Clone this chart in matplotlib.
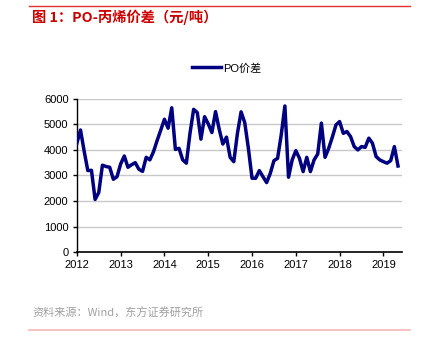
import numpy as np
import pandas as pd
import matplotlib
matplotlib.use("Agg")
import matplotlib.pyplot as plt
from matplotlib.lines import Line2D

plt.rcParams['font.family'] = ['Liberation Sans', 'Noto Sans CJK SC', 'DejaVu Sans']

# monthly PO - propylene spread, yuan/ton
spread = [4260, 4780, 3950, 3190, 3200, 2060, 2330, 3400, 3350, 3320,
          2850, 2950, 3450, 3760, 3320, 3420, 3500, 3240, 3160, 3710,
          3610, 3930, 4370, 4780, 5200, 4850, 5650, 4020, 4060, 3610,
          3480, 4650, 5590, 5460, 4420, 5300, 5020, 4680, 5500, 4810,
          4230, 4500, 3710, 3540, 4650, 5490, 5070, 4060, 2890, 2890,
          3190, 2950, 2720, 3080, 3580, 3670, 4590, 5720, 2930, 3610,
          3970, 3670, 3150, 3710, 3150, 3610, 3840, 5050, 3710, 4060,
          4500, 4980, 5110, 4650, 4720, 4520, 4130, 4000, 4130, 4100,
          4460, 4260, 3740, 3610, 3540, 3480, 3580, 4130, 3370]
years = list(range(2012, 2020))
yticks = [0, 1000, 2000, 3000, 4000, 5000, 6000]

dates = pd.date_range("2012-01-01", periods=len(spread), freq="MS")
x = dates.year + (dates.month - 1) / 12.0

fig = plt.figure(figsize=(4.27, 3.53), dpi=100)
ax = fig.add_axes([0.180, 0.286, 0.761, 0.434])

for v in yticks[1:]:
    ax.axhline(v, color="#c8c8c8", lw=1, zorder=1)
ax.plot(x, spread, color="#000080", lw=2.5, zorder=3, solid_joinstyle="round")

ax.set_xlim(2012, 2019.42)
ax.set_ylim(0, 6000)
ax.set_xticks(years)
ax.set_xticklabels([str(y) for y in years])
ax.set_yticks(yticks)
ax.tick_params(axis="both", labelsize=8, length=3, width=1, color="black", pad=3)
for s in ["top", "right"]:
    ax.spines[s].set_visible(False)
ax.spines["left"].set_linewidth(1)
ax.spines["bottom"].set_linewidth(1.2)

# legend
h = Line2D([], [], color="#000080", lw=2.5)
fig.legend([h], ["PO价差"], loc="center", bbox_to_anchor=(0.53, 0.807),
           frameon=False, fontsize=8, handlelength=2.6, handletextpad=0.2)

# title and source
fig.lines.append(Line2D([0.068, 0.96], [0.983, 0.983], color="#e03030", lw=1,
                        transform=fig.transFigure))
fig.text(0.075, 0.952, "图 1：PO-丙烯价差（元/吨）", color="#cc0000", fontsize=10.3,
         fontweight="bold", va="center", ha="left",
         family=['Noto Sans CJK SC', 'DejaVu Sans'])
fig.text(0.075, 0.113, "资料来源：Wind，东方证券研究所", color="#a0a0a0", fontsize=8,
         va="center", ha="left", family=['Noto Sans CJK SC', 'DejaVu Sans'])
fig.lines.append(Line2D([0.068, 0.96], [0.065, 0.065], color="#f4b8b8", lw=1.2,
                        transform=fig.transFigure))

fig.savefig("out.png", dpi=100)
